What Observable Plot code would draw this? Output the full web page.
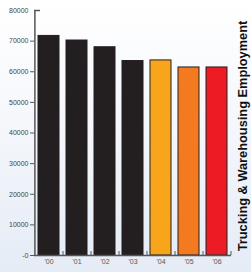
<!DOCTYPE html>
<html><head><meta charset="utf-8">
<script src="https://cdn.jsdelivr.net/npm/d3@7"></script>
<script src="https://cdn.jsdelivr.net/npm/@observablehq/plot@0.6"></script>
<style>body{margin:0;background:#fff;}</style>
</head><body><div id="chart"></div>
<script>
const years = ["'00","'01","'02","'03","'04","'05","'06"];
const employment = [71700, 70200, 68000, 63500, 63700, 61400, 61400];
const barColors = ["#231f20","#231f20","#231f20","#231f20","#f8a51c","#f47a20","#ed1c24"];
const yTicks = [0,10000,20000,30000,40000,50000,60000,70000];
const title = "Trucking & Warehousing Employment";

const data = years.map((y,i)=>({year:y, value:employment[i], color:barColors[i]}));

const chart = Plot.plot({
  width: 251, height: 272,
  marginLeft: 34, marginRight: 20, marginTop: 10, marginBottom: 17,
  style: {background: "linear-gradient(#ffffff 0%, #f6f8fc 40%, #e5ecf6 100%)", fontFamily: "Liberation Sans, Arial, sans-serif", color: "#333"},
  x: {domain: years, paddingInner: 0.25, paddingOuter: 0.125, axis: null},
  y: {domain: [0, 80000], axis: null},
  marks: [
    Plot.barY(data, {x:"year", y:"value", fill:"color", stroke:"#231f20", strokeWidth: 1}),
    Plot.ruleY([0], {stroke:"#555", strokeWidth:1.5}),
    Plot.ruleX([years[0]], {dx: -14.1, y1: 0, y2: 80000, stroke:"#555", strokeWidth: 1.5}),
    Plot.axisY({ticks: yTicks, tickSize: 4, fontSize: 7, label: null, tickFormat: d => d===0 ? "-0" : String(d), stroke:"#555", fill:"#444", tickPadding: 2}),
    Plot.axisY({ticks: [80000], tickSize: 0, fontSize: 7, label: null, tickFormat: d => String(d), fill:"#444", tickPadding: 6}),
    Plot.ruleY([80000], {insetRight: 191, stroke:"#555", strokeWidth: 1.5}),
    Plot.ruleX(years, {dx: 14, y1: 0, y2: 1300, stroke:"#555", strokeWidth: 1}),
    Plot.axisX({tickSize: 0, fontSize: 7, label: null, fill:"#555", tickPadding: 4}),
    Plot.text([title], {frameAnchor:"right", textAnchor:"middle", rotate:-90, dx: 11, dy: 3, fontSize: 12.8, fontWeight: "bold", fill:"#111", text: d=>d})
  ]
});
document.getElementById("chart").appendChild(chart);
</script>
</body></html>
